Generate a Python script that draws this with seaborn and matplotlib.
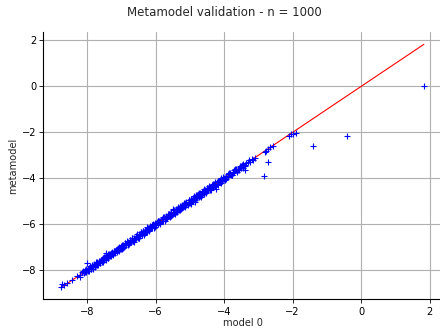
import matplotlib
matplotlib.use("Agg")
import matplotlib.pyplot as plt
import seaborn as sns
import pandas as pd

# Model outputs (x) against metamodel predictions (y) on the validation sample
model_0 = [
    -8.75, -8.68, -8.72, -8.58, -8.45, -8.30, -8.22, -8.15, -8.10, -8.05, -8.00,
    -7.98, -7.95, -7.90, -7.87, -7.83, -7.80, -7.76, -7.72, -7.70, -7.66,
    -7.62, -7.60, -7.56, -7.52, -7.50, -7.46, -7.45, -7.42, -7.40, -7.36,
    -7.32, -7.30, -7.26, -7.22, -7.20, -7.16, -7.12, -7.10, -7.06, -7.02,
    -7.00, -6.96, -6.92, -6.90, -6.86, -6.82, -6.80, -6.76, -6.72, -6.70,
    -6.66, -6.62, -6.60, -6.56, -6.52, -6.50, -6.46, -6.42, -6.40, -6.36,
    -6.32, -6.30, -6.26, -6.22, -6.20, -6.16, -6.12, -6.10, -6.06, -6.02,
    -6.00, -5.96, -5.92, -5.90, -5.86, -5.82, -5.80, -5.76, -5.72, -5.70,
    -5.66, -5.62, -5.60, -5.56, -5.52, -5.50, -5.46, -5.42, -5.40, -5.36,
    -5.32, -5.30, -5.26, -5.22, -5.20, -5.16, -5.12, -5.10, -5.06, -5.02,
    -5.00, -4.96, -4.92, -4.85, -4.90, -4.86, -4.82, -4.80, -4.76, -4.72,
    -4.70, -4.66, -4.62, -4.60, -4.56, -4.52, -4.50, -4.46, -4.42, -4.40,
    -4.36, -4.32, -4.30, -4.24, -4.26, -4.22, -4.20, -4.16, -4.12, -4.10,
    -4.06, -4.02, -4.00, -3.95, -3.90, -3.85, -3.80, -3.75, -3.70, -3.65,
    -3.60, -3.55, -3.50, -3.45, -3.39, -3.40, -3.35, -3.30, -3.25, -3.20,
    -3.15, -3.10,
    -8.20, -8.12, -8.04, -7.92, -7.84, -7.74, -7.68, -7.58, -7.54, -7.44,
    -7.38, -7.28, -7.24, -7.14, -7.08, -6.98, -6.94, -6.84, -6.78, -6.68,
    -6.64, -6.54, -6.48, -6.38, -6.34, -6.24, -6.18, -6.08, -6.04, -5.94,
    -5.88, -5.78, -5.74, -5.64, -5.58, -5.48, -5.44, -5.34, -5.28, -5.18,
    -5.14, -5.04, -4.98, -4.88, -4.84, -4.74, -4.68, -4.58, -4.54, -4.44,
    -4.38, -4.28, -4.18, -4.08, -3.98, -3.88, -3.78, -3.68, -3.58, -3.48,
    -3.38, -3.28,
    -8.06, -7.98, -7.90, -7.82, -7.74, -7.66, -7.58, -7.50, -7.42, -7.34,
    -7.26, -7.18, -7.10, -7.02, -6.94, -6.86, -6.78, -6.70, -6.62, -6.54,
    -6.46, -6.38, -6.30, -6.22, -6.14, -6.06, -5.98, -5.90, -5.82, -5.74,
    -5.66, -5.58, -5.50, -5.42, -5.34, -5.26, -5.18, -5.10, -5.02, -4.94,
    -4.86, -4.78, -4.70, -4.62, -4.54, -4.46, -4.38, -4.30, -4.22, -4.14,
    -4.06, -3.98, -3.90, -3.82, -3.74, -3.66, -3.58, -3.50, -3.42,
    -8.02, -7.94, -7.86, -7.78, -7.70, -7.62, -7.54, -7.46, -7.38, -7.30,
    -7.22, -7.14, -7.06, -6.98, -6.90, -6.82, -6.74, -6.66, -6.58, -6.50,
    -6.42, -6.34, -6.26, -6.18, -6.10, -6.02, -5.94, -5.86, -5.78, -5.70,
    -5.62, -5.54, -5.46, -5.38, -5.30, -5.22, -5.14, -5.06, -4.98, -4.90,
    -4.82, -4.74, -4.66, -4.58, -4.50, -4.42, -4.34, -4.26, -4.18, -4.10,
    -4.02, -3.94, -3.86, -3.78, -3.70, -3.62, -3.54, -3.46,
    -2.82, -2.78, -2.72, -2.65, -2.58, -2.83, -2.73,
    -2.10, -2.05, -2.00, -1.90, -1.40, -0.42, 1.83,
]
metamodel = [
    -8.72, -8.66, -8.60, -8.56, -8.42, -8.25, -8.20, -8.10, -8.13, -8.00, -7.67,
    -8.02, -7.90, -7.96, -7.85, -7.88, -7.74, -7.80, -7.70, -7.76, -7.60,
    -7.68, -7.57, -7.62, -7.45, -7.55, -7.50, -7.25, -7.38, -7.46, -7.30,
    -7.38, -7.26, -7.32, -7.15, -7.26, -7.12, -7.18, -7.04, -7.12, -6.96,
    -7.06, -6.90, -6.98, -6.84, -6.92, -6.78, -6.86, -6.70, -6.78, -6.62,
    -6.72, -6.58, -6.66, -6.50, -6.58, -6.44, -6.52, -6.36, -6.46, -6.30,
    -6.38, -6.24, -6.32, -6.16, -6.26, -6.10, -6.18, -6.04, -6.12, -5.94,
    -6.05, -5.90, -5.98, -5.84, -5.92, -5.76, -5.86, -5.70, -5.78, -5.64,
    -5.72, -5.56, -5.66, -5.50, -5.58, -5.35, -5.52, -5.36, -5.46, -5.30,
    -5.38, -5.24, -5.32, -5.16, -5.26, -5.10, -5.18, -5.04, -5.12, -4.96,
    -5.06, -4.90, -4.98, -5.04, -4.84, -4.92, -4.76, -4.86, -4.70, -4.78,
    -4.64, -4.72, -4.56, -4.66, -4.50, -4.58, -4.44, -4.52, -4.36, -4.46,
    -4.30, -4.38, -4.24, -4.48, -4.32, -4.16, -4.25, -4.12, -4.18, -4.04,
    -4.10, -3.98, -4.04, -3.90, -3.95, -3.80, -3.85, -3.72, -3.75, -3.60,
    -3.65, -3.52, -3.55, -3.40, -3.64, -3.45, -3.32, -3.28, -3.30, -3.18,
    -3.20, -3.12,
    -8.28, -8.05, -8.10, -7.84, -7.93, -7.66, -7.78, -7.50, -7.64, -7.36,
    -7.48, -7.20, -7.34, -7.06, -7.18, -6.90, -7.04, -6.74, -6.88, -6.58,
    -6.76, -6.44, -6.60, -6.28, -6.46, -6.14, -6.30, -5.98, -6.16, -5.84,
    -6.00, -5.68, -5.86, -5.54, -5.70, -5.38, -5.56, -5.24, -5.40, -5.08,
    -5.26, -4.94, -5.10, -4.78, -4.96, -4.64, -4.80, -4.48, -4.66, -4.34,
    -4.50, -4.18, -4.28, -3.98, -4.06, -3.80, -3.86, -3.60, -3.66, -3.42,
    -3.42, -3.22,
    -8.08, -7.95, -7.95, -7.81, -7.76, -7.63, -7.63, -7.49, -7.44, -7.31,
    -7.31, -7.17, -7.12, -6.99, -6.99, -6.85, -6.80, -6.67, -6.67, -6.53,
    -6.48, -6.35, -6.35, -6.21, -6.16, -6.03, -6.03, -5.89, -5.84, -5.71,
    -5.71, -5.57, -5.52, -5.39, -5.39, -5.25, -5.20, -5.07, -5.07, -4.93,
    -4.88, -4.75, -4.75, -4.61, -4.56, -4.43, -4.43, -4.29, -4.24, -4.11,
    -4.11, -3.97, -3.92, -3.79, -3.79, -3.65, -3.60, -3.47, -3.47,
    -7.95, -8.03, -7.79, -7.87, -7.63, -7.71, -7.47, -7.55, -7.31, -7.39,
    -7.15, -7.23, -6.99, -7.07, -6.83, -6.91, -6.67, -6.75, -6.51, -6.59,
    -6.35, -6.43, -6.19, -6.27, -6.03, -6.11, -5.87, -5.95, -5.71, -5.79,
    -5.55, -5.63, -5.39, -5.47, -5.23, -5.31, -5.07, -5.15, -4.91, -4.99,
    -4.75, -4.83, -4.59, -4.67, -4.43, -4.51, -4.27, -4.35, -4.11, -4.19,
    -3.95, -4.03, -3.79, -3.87, -3.63, -3.71, -3.47, -3.55,
    -2.86, -2.80, -2.72, -2.66, -2.60, -3.89, -3.28,
    -2.15, -2.08, -2.06, -2.03, -2.60, -2.18, 0.00,
]

df = pd.DataFrame({"model 0": model_0, "metamodel": metamodel})

sns.set_style("ticks")
plt.rcParams["font.family"] = ["DejaVu Sans"]
plt.rcParams["font.size"] = 7.1

fig = plt.figure(figsize=(4.4, 3.28), dpi=100)
ax = fig.add_axes([0.0985, 0.0869, 0.906, 0.815])

# Diagonal reference line y = x spanning the model range
lo, hi = min(model_0), max(model_0)
ax.plot([lo, hi], [lo, hi], color="red", linewidth=0.8, zorder=2)

sns.scatterplot(data=df, x="model 0", y="metamodel", marker="+", color="blue",
                s=20, linewidth=0.8, ax=ax, zorder=3)

ax.grid(True, color="#b0b0b0", linewidth=0.8)
ax.set_axisbelow(True)
sns.despine(ax=ax)
for side in ("left", "bottom"):
    ax.spines[side].set_linewidth(0.8)
    ax.spines[side].set_color("black")
ax.tick_params(labelsize=7.1, colors="black", length=2.6, width=0.6, pad=2.5)
ax.set_xlabel("model 0", fontsize=7.1, labelpad=1.2)
ax.set_ylabel("metamodel", fontsize=7.1, labelpad=2.8)
ax.set_xticks([-8, -6, -4, -2, 0, 2])
ax.set_yticks([-8, -6, -4, -2, 0, 2])
ax.margins(0.05)
fig.suptitle("Metamodel validation - n = 1000", fontsize=8.5,
             x=0.511, y=0.963, va="center")

fig.savefig("out.png", dpi=100)
